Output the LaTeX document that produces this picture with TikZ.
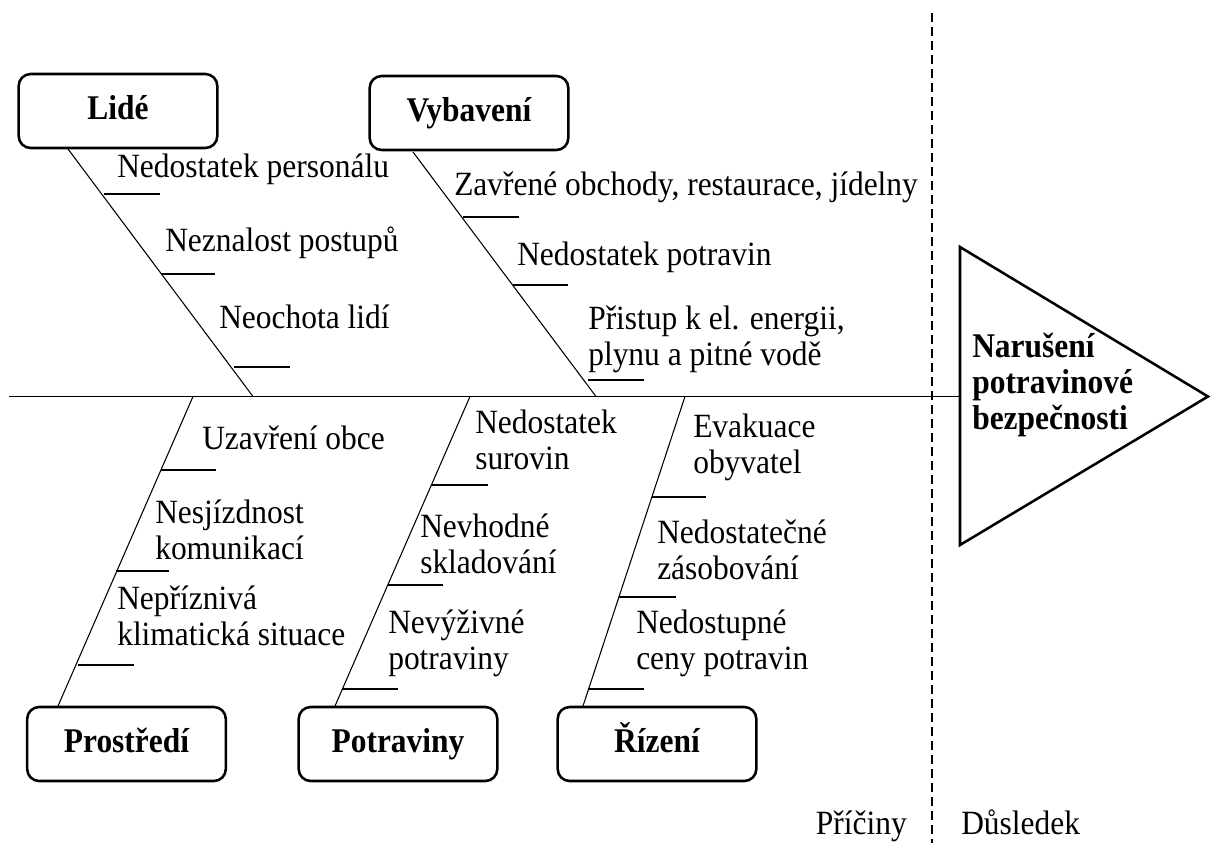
\documentclass[tikz,border=0pt]{standalone}
\usepackage{graphicx}
\usepackage{fontspec}
\setmainfont{Liberation Serif}
\newcommand\vs[1]{\scalebox{1}[1.08]{#1}}
\newcommand\vb[1]{\scalebox{1}[1.1]{#1}}
\newcommand\twolines[2]{\vtop{\baselineskip=27.2pt\hbox{\vs{#1}}\hbox{\vs{#2}}}}
\begin{document}
\begin{tikzpicture}[x=0.75pt,y=-0.75pt,
  txt/.style={font=\fontsize{23.6pt}{27.2pt}\selectfont},
  cat/.style={draw, line width=1.9pt, rounded corners=9pt, minimum width=149pt, minimum height=55.5pt,
    inner sep=0pt, text height=18pt, text depth=5pt, font=\fontsize{23.6pt}{27.2pt}\selectfont\bfseries},
  lbl/.style={txt, anchor=base west, inner sep=0pt},
  bone/.style={line width=0.8pt},
  spine/.style={line width=1.1pt},
  tick/.style={line width=1pt},
  sep/.style={line width=1.5pt, dash pattern=on 6.75pt off 3.75pt},
]
\useasboundingbox (0,0) rectangle (1211,843);

% category boxes
\node[cat] (lide) at (118,111) {\vb{Lidé}};
\node[cat] (vyb) at (469,113) {\vb{Vybavení}};
\node[cat] (pros) at (126.5,744) {\vb{Prostředí}};
\node[cat] (potr) at (398,744) {\vb{Potraviny}};
\node[cat] (riz) at (657,744) {\vb{Řízení}};

% head (effect)
\coordinate (tail) at (9,396.5);
\coordinate (head) at (960,396.5);
\coordinate (headT) at (960,247);
\coordinate (headB) at (960,545);
\coordinate (apex) at (1208,396.5);
\draw[line width=1.9pt, line join=miter] (headT) -- (apex) -- (headB) -- cycle;
\node[anchor=base west, inner sep=0pt, font=\fontsize{23.6pt}{27pt}\selectfont\bfseries] (effect) at (972,357)
  {\vtop{\baselineskip=27pt\hbox{\vb{Narušení}}\hbox{\vb{potravinové}}\hbox{\vb{bezpečnosti}}}};

% spine
\draw[spine] (tail) -- (head);

% separator
\coordinate (sepT) at (932.4,13);
\coordinate (sepB) at (932.4,843);
\draw[sep] (sepT) -- (sepB);
\node[txt, anchor=base east, inner sep=0pt] (pric) at (907,834) {\vs{Příčiny}};
\node[txt, anchor=base west, inner sep=0pt] (dusl) at (961,834) {\vs{Důsledek}};

% bones
\coordinate (lideB) at (68,149);   \coordinate (lideS) at (253,396.5);
\coordinate (vybB) at (413,152);   \coordinate (vybS) at (596,396.5);
\coordinate (prosB) at (58,706);   \coordinate (prosS) at (193,396.5);
\coordinate (potrB) at (335,706);  \coordinate (potrS) at (470,396.5);
\coordinate (rizB) at (583,706);   \coordinate (rizS) at (685,396.5);
\draw[bone] (lideB) -- (lideS);
\draw[bone] (vybB) -- (vybS);
\draw[bone] (prosS) -- (prosB);
\draw[bone] (potrS) -- (potrB);
\draw[bone] (rizS) -- (rizB);

% ticks
\draw[tick] (104,194) -- (160,194);
\draw[tick] (161,274) -- (215,274);
\draw[tick] (234,367) -- (290,367);
\draw[tick] (463,217) -- (519,217);
\draw[tick] (513,285) -- (568,285);
\draw[tick] (588,380) -- (644,380);
\draw[tick] (161,470) -- (216,470);
\draw[tick] (116,571) -- (169,571);
\draw[tick] (78,665) -- (134,665);
\draw[tick] (432,485) -- (488,485);
\draw[tick] (388,585) -- (443,585);
\draw[tick] (342,689) -- (398,689);
\draw[tick] (652,497) -- (706,497);
\draw[tick] (619,597) -- (676,597);
\draw[tick] (588,689) -- (644,689);

% labels - Lidé
\node[lbl] (l1) at (117,177) {\vs{Nedostatek personálu}};
\node[lbl] (l2) at (165,251) {\vs{Neznalost postupů}};
\node[lbl] (l3) at (219,328) {\vs{Neochota lidí}};
% labels - Vybavení
\node[lbl] (v1) at (454,195) {\vs{Zavřené obchody, restaurace, jídelny}};
\node[lbl] (v2) at (517,265) {\vs{Nedostatek potravin}};
\node[lbl] (v3) at (588,329) {\twolines{Přistup k el. energii,}{plynu a pitné vodě}};
% labels - Prostředí
\node[lbl] (p1) at (202,449) {\vs{Uzavření obce}};
\node[lbl] (p2) at (155,523) {\twolines{Nesjízdnost}{komunikací}};
\node[lbl] (p3) at (117,609) {\twolines{Nepříznivá}{klimatická situace}};
% labels - Potraviny
\node[lbl] (f1) at (475,433) {\twolines{Nedostatek}{surovin}};
\node[lbl] (f2) at (420,537) {\twolines{Nevhodné}{skladování}};
\node[lbl] (f3) at (388,633) {\twolines{Nevýživné}{potraviny}};
% labels - Řízení
\node[lbl] (r1) at (693,437) {\twolines{Evakuace}{obyvatel}};
\node[lbl] (r2) at (657,543) {\twolines{Nedostatečné}{zásobování}};
\node[lbl] (r3) at (636,633) {\twolines{Nedostupné}{ceny potravin}};
\end{tikzpicture}
\end{document}
